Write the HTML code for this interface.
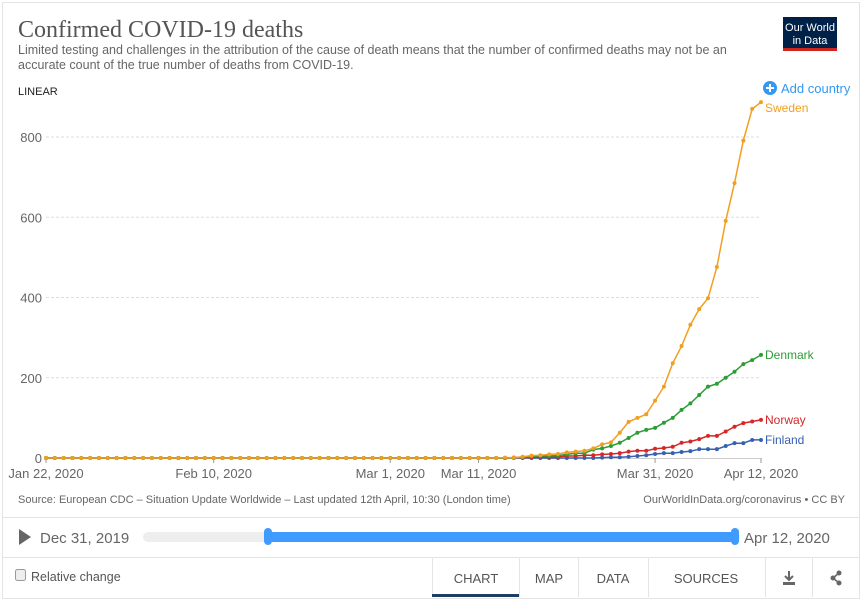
<!DOCTYPE html>
<html><head><meta charset="utf-8">
<style>
body{margin:0;background:#fff;font-family:"Liberation Sans",sans-serif;}
svg{display:block}
</style></head>
<body>
<svg id="chart" width="862" height="604" xmlns="http://www.w3.org/2000/svg" font-family="Liberation Sans, sans-serif">
  <rect x="2.5" y="2.5" width="857" height="596" fill="#fff" stroke="#e4e4e4"/>
  <text x="18" y="37" font-family="Liberation Serif, serif" font-size="24" fill="#555">Confirmed COVID-19 deaths</text>
  <text font-size="12.5" fill="#666"><tspan x="18" y="54">Limited testing and challenges in the attribution of the cause of death means that the number of confirmed deaths may not be an</tspan><tspan x="18" y="69">accurate count of the true number of deaths from COVID-19.</tspan></text>
  <g>
    <rect x="783" y="17" width="54" height="33" fill="#002147"/>
    <rect x="783" y="48" width="54" height="3" fill="#ce261e"/>
    <text x="810" y="31" font-size="11" fill="#fff" text-anchor="middle">Our World</text>
    <text x="810" y="44" font-size="11" fill="#fff" text-anchor="middle">in Data</text>
  </g>
  <text x="18" y="95" font-size="11" fill="#222">LINEAR</text>
  <g>
    <circle cx="770" cy="88" r="7" fill="#3498f3"/>
    <path d="M766 88h8M770 84v8" stroke="#fff" stroke-width="2"/>
    <text x="781" y="93" font-size="13" fill="#3498f3">Add country</text>
  </g>
  <g id="grid"></g>
  <g id="yaxis"></g>
  <g id="xaxis"></g>
  <g id="series"></g>
  <text x="18" y="503" font-size="11" fill="#666">Source: European CDC – Situation Update Worldwide – Last updated 12th April, 10:30 (London time)</text>
  <text x="845" y="503" font-size="11" fill="#666" text-anchor="end">OurWorldInData.org/coronavirus • CC BY</text>
  <line x1="3" y1="517.5" x2="859" y2="517.5" stroke="#e4e4e4"/>
  <path d="M19 529 L31 537 L19 545 Z" fill="#666"/>
  <text x="40" y="543" font-size="15" fill="#666">Dec 31, 2019</text>
  <rect x="143" y="532" width="597" height="10" rx="5" fill="#eee"/>
  <rect x="268" y="532" width="467" height="10" fill="#3f9bff"/>
  <rect x="264" y="528" width="8" height="17" rx="4" fill="#3f9bff"/>
  <rect x="731" y="528" width="8" height="17" rx="4" fill="#3f9bff"/>
  <text x="744" y="543" font-size="15" fill="#666">Apr 12, 2020</text>
  <line x1="3" y1="557.5" x2="859" y2="557.5" stroke="#e4e4e4"/>
  <g>
    <rect x="15.5" y="569.5" width="10" height="11" rx="2" fill="#eee" stroke="#999"/>
    <text x="31" y="581" font-size="12.5" fill="#555">Relative change</text>
  </g>
  <g font-size="13" fill="#555" text-anchor="middle">
    <line x1="432.5" y1="558" x2="432.5" y2="597" stroke="#e4e4e4"/>
    <text x="476" y="583">CHART</text>
    <rect x="432" y="594" width="87" height="3" fill="#1d3d63"/>
    <line x1="519.5" y1="558" x2="519.5" y2="597" stroke="#e4e4e4"/>
    <text x="549" y="583">MAP</text>
    <line x1="578.5" y1="558" x2="578.5" y2="597" stroke="#e4e4e4"/>
    <text x="613" y="583">DATA</text>
    <line x1="648.5" y1="558" x2="648.5" y2="597" stroke="#e4e4e4"/>
    <text x="706" y="583">SOURCES</text>
    <line x1="765.5" y1="558" x2="765.5" y2="597" stroke="#e4e4e4"/>
    <g>
      <path d="M789 571v9M785 576l4 4 4-4" stroke="#666" stroke-width="2" fill="none"/>
      <rect x="783" y="582" width="12" height="3" fill="#666"/>
    </g>
    <line x1="812.5" y1="558" x2="812.5" y2="597" stroke="#e4e4e4"/>
    <g>
      <circle cx="839" cy="573" r="2.5" fill="#666"/><circle cx="833" cy="578" r="2.5" fill="#666"/><circle cx="839" cy="583" r="2.5" fill="#666"/>
      <path d="M839 573L833 578L839 583" stroke="#666" stroke-width="1.5" fill="none"/>
    </g>
  </g>
</svg>
<script>
const yTicks = [0, 200, 400, 600, 800];
const xTickDays = [0, 19, 39, 49, 69, 81];
const xTickLabels = ["Jan 22, 2020", "Feb 10, 2020", "Mar 1, 2020", "Mar 11, 2020", "Mar 31, 2020", "Apr 12, 2020"];
const countries = ["Sweden", "Denmark", "Norway", "Finland"];
const colors = ["#f29f20", "#2d9c36", "#d62728", "#3660b0"];
const totalDays = 82;
const startDay = 52;
// values from day 52 (Mar 14) to day 81 (Apr 12); earlier days are 0
const sweden = [1,1,3,6,7,9,10,14,16,18,24,34,39,63,90,100,109,143,178,236,279,332,371,398,476,591,685,791,870,887];
const denmark = [0,1,2,4,5,5,6,9,12,12,21,24,30,38,50,63,70,75,88,100,120,136,157,178,185,200,215,234,244,257];
const norway = [0,1,1,2,3,3,3,5,5,7,7,9,10,12,16,18,18,23,25,28,38,41,47,55,55,66,78,87,91,95];
const finland = [0,0,0,0,0,0,0,0,0,0,0,1,2,2,3,5,7,10,12,12,15,17,22,22,22,30,37,37,45,45];
const seriesData = [sweden, denmark, norway, finland];

const NS = "http://www.w3.org/2000/svg";
const x = d => 46 + d * (761 - 46) / 81;
const y = v => 458 - v * (458 - 137) / 800;
function mk(tag, attrs, parent) { const e = document.createElementNS(NS, tag); for (const k in attrs) e.setAttribute(k, attrs[k]); parent.appendChild(e); return e; }

const grid = document.getElementById("grid"), ya = document.getElementById("yaxis"), xa = document.getElementById("xaxis"), ser = document.getElementById("series");
yTicks.forEach(t => {
  if (t > 0) {
    const g = mk("line", {x1: 46, x2: 761, y1: y(t), y2: y(t), stroke: "#ddd", "stroke-dasharray": "3,2"}, grid);
    
    
  }
  const tx = mk("text", {x: 42, y: y(t) + 5, "font-size": 13, fill: "#666", "text-anchor": "end"}, ya);
  tx.textContent = t;
  
  
});
mk("line", {x1: 46, x2: 761, y1: 458.5, y2: 458.5, stroke: "#ccc"}, xa);
xTickDays.forEach((d, i) => {
  mk("line", {x1: x(d), x2: x(d), y1: 458, y2: 463, stroke: "#999"}, xa);
  const tx = mk("text", {x: x(d), y: 478, "font-size": 13, fill: "#666", "text-anchor": "middle"}, xa);
  tx.textContent = xTickLabels[i];
  
  
});
const labelY = [y(sweden[sweden.length-1]) + 6, null, null, null];
for (let s = seriesData.length - 1; s >= 0; s--) {
  const vals = [];
  for (let d = 0; d < totalDays; d++) vals.push(d < startDay ? 0 : seriesData[s][d - startDay]);
  const g = mk("g", {}, ser);
  
  
  mk("path", {d: vals.map((v, d) => (d ? "L" : "M") + x(d).toFixed(1) + " " + y(v).toFixed(1)).join(""), fill: "none", stroke: colors[s], "stroke-width": 1.5}, g);
  vals.forEach((v, d) => {
    const c = mk("circle", {cx: x(d), cy: y(v), r: 2, fill: colors[s]}, g);
    
    
  });
  const last = vals[vals.length - 1];
  const lab = mk("text", {x: 765, y: y(last) + (s === 0 ? 10 : 4), "font-size": 12, fill: colors[s]}, g);
  lab.textContent = countries[s];
  
  
}
</script>
</body></html>
